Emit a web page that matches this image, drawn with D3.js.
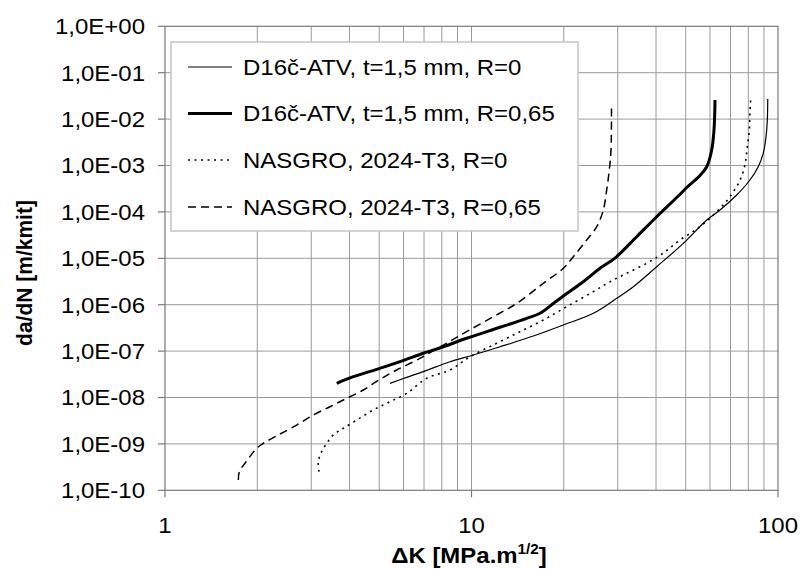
<!DOCTYPE html>
<html><head><meta charset="utf-8">
<script src="https://cdn.jsdelivr.net/npm/d3@7"></script>
<style>
html,body{margin:0;padding:0;background:#fff;}
svg{display:block;}
text{font-family:"Liberation Sans",Arial,sans-serif;fill:#000;}
</style></head>
<body>
<svg id="c" width="802" height="569"></svg>
<script>
// ---- data ----
const yTickValues = [1e0,1e-1,1e-2,1e-3,1e-4,1e-5,1e-6,1e-7,1e-8,1e-9,1e-10];
const yTickLabels = ["1,0E+00","1,0E-01","1,0E-02","1,0E-03","1,0E-04","1,0E-05","1,0E-06","1,0E-07","1,0E-08","1,0E-09","1,0E-10"];
const xTickValues = [1,10,100];
const xTickLabels = ["1","10","100"];
const seriesNames = ["D16č-ATV, t=1,5 mm, R=0","D16č-ATV, t=1,5 mm, R=0,65","NASGRO, 2024-T3, R=0","NASGRO, 2024-T3, R=0,65"];

// D16č-ATV, R=0 (thin solid)
const d16R0_K = [5.42,6.145,6.961,8.51,10.14,12.39,15.91,19.94,24.97,29.77,33.73,40.2,49.1,58.55,64.7,73.3,81.0,86.2,89.5,91.4,92.3,92.6];
const d16R0_v = [2.02e-8,2.72e-8,3.6e-8,5.91e-8,8.24e-8,1.24e-7,2.11e-7,3.65e-7,6.53e-7,1.37e-6,2.44e-6,6.59e-6,2.1e-5,6.69e-5,1.1e-4,2.31e-4,4.87e-4,9.42e-4,1.83e-3,4.18e-3,9.57e-3,2.71e-2];

// D16č-ATV, R=0,65 (thick solid)
const d16R065_K = [3.633,4.116,4.906,5.845,6.961,8.09,9.64,12.39,15.14,16.73,18.49,19.94,23.16,26.26,29.38,34.59,40.2,47.28,50.37,55.67,58.55,60.77,61.83,62.3];
const d16R065_v = [2.02e-8,2.81e-8,4.05e-8,5.91e-8,8.97e-8,1.24e-7,1.89e-7,3.26e-7,5.09e-7,6.53e-7,1.06e-6,1.54e-6,3.13e-6,6.09e-6,1.01e-5,2.92e-5,7.88e-5,2.2e-4,3.36e-4,6.08e-4,9.42e-4,2.16e-3,5.82e-3,2.58e-2];

// NASGRO 2024-T3, R=0 (dotted)
const nasR0_K = [3.18,3.164,3.245,3.371,3.541,3.817,4.221,4.782,5.42,6.145,7.14,8.51,9.89,12.08,14.39,17.15,20.45,24.97,28.31,32.09,37.29,42.25,47.9,55.67,63.9,69.7,75.2,78.0,79.4,80.6,81.0,81.5];
const nasR0_v = [2.52e-10,4.13e-10,6.79e-10,1.03e-9,1.56e-9,2.17e-9,3.27e-9,5.38e-9,8.11e-9,1.23e-8,2.59e-8,3.92e-8,7.57e-8,1.47e-7,2.62e-7,4.68e-7,9.06e-7,1.91e-6,3.13e-6,4.75e-6,7.8e-6,1.3e-5,2.48e-5,4.8e-5,1.1e-4,2.13e-4,4.87e-4,1.03e-3,2.54e-3,5.82e-3,1.33e-2,2.81e-2];

// NASGRO 2024-T3, R=0,65 (dashed)
const nasR065_K = [1.735,1.748,1.824,1.992,2.093,2.343,2.69,3.046,3.453,3.915,4.436,5.03,5.70,6.63,8.09,9.64,11.78,14.05,17.15,19.94,21.48,23.76,25.62,26.92,27.61,28.16,28.52,28.63];
const nasR065_v = [1.67e-10,2.52e-10,3.82e-10,8.04e-10,1.03e-9,1.56e-9,2.55e-9,4.2e-9,6.33e-9,9.6e-9,1.45e-8,2.47e-8,3.92e-8,6.43e-8,1.35e-7,2.62e-7,5.51e-7,1.07e-6,2.89e-6,6.09e-6,1.08e-5,2.48e-5,4.8e-5,1.1e-4,2.97e-4,8.0e-4,2.16e-3,1.73e-2];

// ---- drawing ----
const SX = 1.09; // horizontal text stretch of the reference
const svg = d3.select("#c");
const x = d3.scaleLog().domain([1,100]).range([165,778]);
const y = d3.scaleLog().domain([1e-10,1]).range([490.3,26.3]);

// grid
const xMinor = [];
[1,10].forEach(b=>{for(let i=2;i<=9;i++) xMinor.push(b*i);});
xMinor.push(10);
const grid = svg.append("g");
grid.selectAll("line.v").data(xMinor).join("line")
  .attr("x1",d=>x(d)).attr("x2",d=>x(d)).attr("y1",y(1)).attr("y2",y(1e-10))
  .attr("stroke","#9a9a9a").attr("stroke-width",1);
grid.selectAll("line.h").data(yTickValues.slice(1,-1)).join("line")
  .attr("x1",x(1)).attr("x2",x(100)).attr("y1",d=>y(d)).attr("y2",d=>y(d))
  .attr("stroke","#9a9a9a").attr("stroke-width",1);

// border
svg.append("rect").attr("x",x(1)).attr("y",y(1)).attr("width",x(100)-x(1)).attr("height",y(1e-10)-y(1))
  .attr("fill","none").attr("stroke","#7a7a7a").attr("stroke-width",1.2);

// y ticks
const yAx = svg.append("g");
yAx.selectAll("line").data(yTickValues).join("line")
  .attr("x1",x(1)-7).attr("x2",x(1)).attr("y1",d=>y(d)).attr("y2",d=>y(d))
  .attr("stroke","#7a7a7a").attr("stroke-width",1.2);
yAx.selectAll("text").data(yTickValues).join("text")
  .attr("transform",d=>`translate(145,${y(d)+7.8}) scale(${SX},1)`)
  .attr("text-anchor","end").attr("font-size",22)
  .text((d,i)=>yTickLabels[i]);

// x ticks
const xAx = svg.append("g");
xAx.selectAll("line").data(xTickValues).join("line")
  .attr("x1",d=>x(d)).attr("x2",d=>x(d)).attr("y1",y(1e-10)).attr("y2",y(1e-10)+7)
  .attr("stroke","#7a7a7a").attr("stroke-width",1.2);
xAx.selectAll("text").data(xTickValues).join("text")
  .attr("transform",d=>`translate(${x(d)},533) scale(${SX},1)`)
  .attr("text-anchor","middle").attr("font-size",22)
  .text((d,i)=>xTickLabels[i]);

// axis titles
const xt = svg.append("text").attr("transform",`translate(469,563) scale(${SX},1)`)
  .attr("text-anchor","middle").attr("font-size",22).attr("font-weight","bold");
xt.append("tspan").text("ΔK [MPa.m");
xt.append("tspan").attr("font-size",14).attr("dy",-9).text("1/2");
xt.append("tspan").attr("dy",9).text("]");

svg.append("text").attr("transform",`translate(32,273) rotate(-90) scale(1,${SX})`)
  .attr("text-anchor","middle").attr("font-size",21).attr("font-weight","bold")
  .text("da/dN [m/kmit]");

// series
const styles = [
  {w:1.2, dash:null},
  {w:3, dash:null},
  {w:1.6, dash:"2,4.5"},
  {w:1.5, dash:"8,5"}
];
const seriesK = [d16R0_K,d16R065_K,nasR0_K,nasR065_K];
const seriesV = [d16R0_v,d16R065_v,nasR0_v,nasR065_v];
const line = d3.line().x(d=>x(d[0])).y(d=>y(d[1])).curve(d3.curveCatmullRom.alpha(0.5));
seriesK.forEach((ks,i)=>{
  const pts = ks.map((k,j)=>[k,seriesV[i][j]]);
  svg.append("path").datum(pts).attr("d",line)
    .attr("fill","none").attr("stroke","#000").attr("stroke-width",styles[i].w)
    .attr("stroke-dasharray",styles[i].dash).attr("stroke-linejoin","round");
});

// legend
const lg = svg.append("g");
lg.append("rect").attr("x",171).attr("y",42).attr("width",407).attr("height",189)
  .attr("fill","#fff").attr("stroke","#c4c4c4").attr("stroke-width",1.5);
const rowY = [67,113.5,160,207];
seriesNames.forEach((nm,i)=>{
  lg.append("line").attr("x1",188).attr("x2",232).attr("y1",rowY[i]).attr("y2",rowY[i])
    .attr("stroke","#000").attr("stroke-width",styles[i].w).attr("stroke-dasharray",styles[i].dash);
  lg.append("text").attr("transform",`translate(243,${rowY[i]+7.8}) scale(${SX},1)`)
    .attr("font-size",22).text(nm);
});
</script>
</body></html>
